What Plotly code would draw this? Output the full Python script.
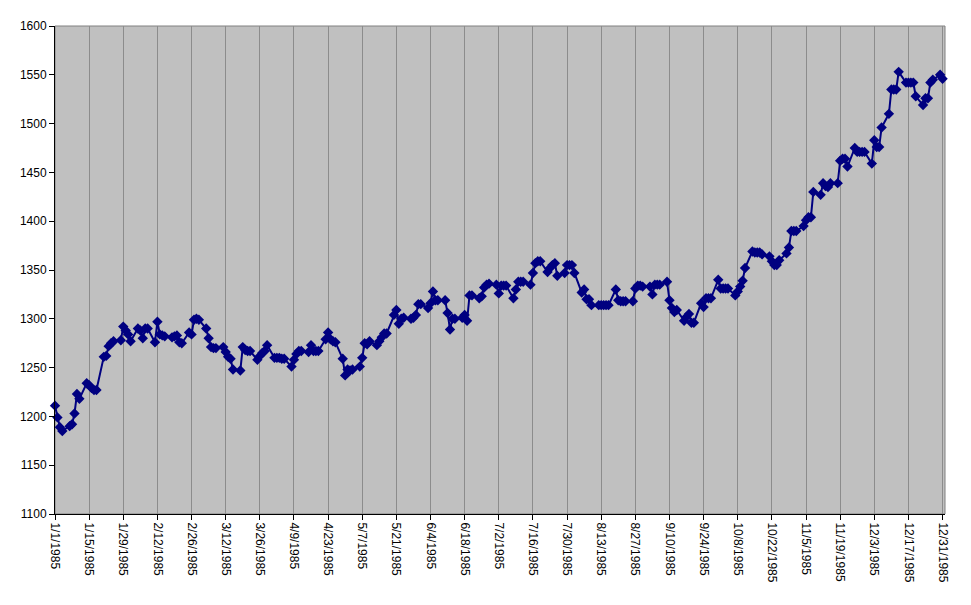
import pandas as pd
import plotly.graph_objects as go

# Weekday dates of 1985 (categories)
dates = pd.bdate_range("1985-01-01", "1985-12-31")

# Values, week by week (Mon..Fri)
values = [
    1211, 1199, 1189, 1185,                 # 1/1-1/4
    1190, 1192, 1203, 1223, 1218,           # 1/7
    1234, 1232, 1229, 1227, 1227,           # 1/14
    1261, 1262, 1272, 1275, 1277,           # 1/21
    1278, 1292, 1288, 1284, 1277,           # 1/28
    1290, 1288, 1280, 1290, 1290,           # 2/4
    1276, 1297, 1284, 1283, 1282,           # 2/11
    1281, 1282, 1283, 1276, 1275,           # 2/18
    1286, 1284, 1299, 1300, 1299,           # 2/25
    1290, 1280, 1271, 1270, 1270,           # 3/4
    1271, 1266, 1261, 1259, 1248,           # 3/11
    1247, 1271, 1268, 1267, 1267,           # 3/18
    1258, 1262, 1265, 1267, 1273,           # 3/25
    1260, 1260, 1260, 1259, 1259,           # 4/1
    1251, 1258, 1264, 1267, 1267,           # 4/8
    1266, 1273, 1267, 1267, 1267,           # 4/15
    1279, 1286, 1279, 1277, 1276,           # 4/22
    1259, 1242, 1248, 1247, 1248,           # 4/29
    1251, 1260, 1275, 1274, 1277,           # 5/6
    1273, 1277, 1281, 1285, 1285,           # 5/13
    1304, 1309, 1295, 1300, 1301,           # 5/20
    1300, 1301, 1304, 1315, 1315,           # 5/27
    1311, 1316, 1328, 1319, 1319,           # 6/3
    1319, 1306, 1289, 1300, 1300,           # 6/10
    1301, 1304, 1298, 1324, 1324,           # 6/17
    1321, 1323, 1332, 1335, 1336,           # 6/24
    1335, 1326, 1334, 1334, 1334,           # 7/1
    1321, 1330, 1338, 1338, 1338,           # 7/8
    1335, 1347, 1357, 1359, 1359,           # 7/15
    1348, 1352, 1355, 1357, 1344,           # 7/22
    1347, 1355, 1355, 1355, 1347,           # 7/29
    1327, 1330, 1320, 1320, 1314,           # 8/5
    1314, 1314, 1314, 1314, 1314,           # 8/12
    1330, 1319, 1318, 1318, 1318,           # 8/19
    1318, 1331, 1334, 1334, 1333,           # 8/26
    1333, 1325, 1335, 1335, 1335,           # 9/2
    1338, 1319, 1311, 1307, 1309,           # 9/9
    1298, 1302, 1305, 1296, 1296,           # 9/16
    1316, 1312, 1321, 1321, 1321,           # 9/23
    1340, 1331, 1331, 1331, 1331,           # 9/30
    1324, 1328, 1333, 1339, 1352,           # 10/7
    1369, 1368, 1368, 1368, 1366,           # 10/14
    1364, 1359, 1355, 1355, 1360,           # 10/21
    1367, 1373, 1390, 1390, 1390,           # 10/28
    1395, 1401, 1404, 1404, 1430,           # 11/4
    1427, 1439, 1436, 1435, 1439,           # 11/11
    1439, 1462, 1464, 1464, 1456,           # 11/18
    1475, 1471, 1471, 1471, 1471,           # 11/25
    1459, 1483, 1476, 1476, 1496,           # 12/2
    1510, 1535, 1535, 1535, 1553,           # 12/9
    1542, 1542, 1542, 1542, 1528,           # 12/16
    1519, 1526, 1526, 1542, 1545,           # 12/23
    1550, 1546,                             # 12/30-12/31
]

y_ticks = [1100, 1150, 1200, 1250, 1300, 1350, 1400, 1450, 1500, 1550, 1600]

fig = go.Figure()
fig.add_trace(go.Scatter(
    x=list(dates), y=values, mode="lines+markers",
    line=dict(color="#000080", width=2),
    marker=dict(symbol="diamond", size=8, color="#000080"),
    cliponaxis=False, showlegend=False,
))

font = dict(family="Liberation Sans, Arial, sans-serif", size=12, color="black")

# page body has an 8px margin, so the figure is sized/margined to compensate
fig.update_layout(
    width=963, height=597,
    margin=dict(l=47, r=26, t=18, b=91),
    paper_bgcolor="white", plot_bgcolor="#C0C0C0",
    font=font,
    xaxis=dict(
        type="date", range=["1985-01-01", "1986-01-01"],
        tick0="1985-01-01", dtick=14 * 86400000,
        tickformat="%-m/%-d/%Y", tickangle=90,
        showgrid=True, gridcolor="#8c8c8c", gridwidth=1,
        showline=True, linecolor="black", linewidth=1,
        ticks="outside", ticklen=5, tickcolor="black",
        zeroline=False, tickfont=font,
    ),
    yaxis=dict(
        range=[1100, 1600], tickvals=y_ticks,
        showgrid=False,
        showline=True, linecolor="black", linewidth=1,
        ticks="outside", ticklen=5, tickcolor="black",
        zeroline=False, tickfont=font,
    ),
    shapes=[dict(type="rect", xref="paper", yref="paper", x0=0, x1=1, y0=0, y1=1,
                 line=dict(color="#808080", width=1), layer="below")],
)

fig.write_html("out.html")
